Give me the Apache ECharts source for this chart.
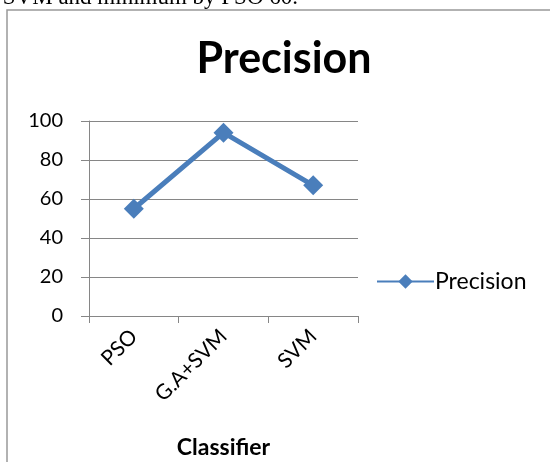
<!DOCTYPE html>
<html>
<head>
<meta charset="utf-8">
<script src="https://cdn.jsdelivr.net/npm/echarts@6/dist/echarts.min.js"></script>
<style>html,body{margin:0;padding:0;background:#fff;}#c{width:550px;height:462px;}</style>
</head>
<body>
<div id="c"></div>
<script>
const categories = ['PSO', 'G.A+SVM', 'SVM'];
const precision = [55, 94, 67];
const yTicks = [0, 20, 40, 60, 80, 100];

const chart = echarts.init(document.getElementById('c'));
const gray = '#868686';
chart.setOption({
  animation: false,
  backgroundColor: '#fff',
  title: {
    text: 'Precision',
    left: 279, top: 33, textAlign: 'center',
    textStyle: { fontFamily: 'Lato', fontWeight: 'bold', fontSize: 43, color: '#000' }
  },
  legend: {
    left: 371, top: 265,
    itemWidth: 57, itemHeight: 18, itemGap: 4,
    textStyle: { fontFamily: 'Lato', fontSize: 23, color: '#000', padding: [0, 0, 0, -4] },
    data: ['Precision']
  },
  grid: { left: 89, right: 192, top: 121, bottom: 146 },
  xAxis: {
    type: 'category', data: categories, boundaryGap: true,
    axisLine: { lineStyle: { color: gray, width: 1 } },
    axisTick: { show: true, length: 7, lineStyle: { color: gray } },
    axisLabel: { rotate: 45, fontFamily: 'Lato', fontSize: 21, color: '#000', margin: 17 },
    name: 'Classifier', nameLocation: 'middle', nameGap: 120,
    nameTextStyle: { fontFamily: 'Lato', fontWeight: 'bold', fontSize: 23, color: '#000' }
  },
  yAxis: {
    type: 'value', min: yTicks[0], max: yTicks[yTicks.length - 1], interval: 20,
    axisLine: { show: true, lineStyle: { color: gray, width: 1 } },
    axisTick: { show: true, inside: false, length: 8, lineStyle: { color: gray } },
    axisLabel: { fontFamily: 'Lato', fontSize: 20, color: '#000', margin: 26 },
    splitLine: { show: true, lineStyle: { color: gray, width: 1 } }
  },
  series: [{
    name: 'Precision', type: 'line', data: precision,
    symbol: 'diamond', symbolSize: 20,
    lineStyle: { color: '#4a7ebb', width: 5 },
    itemStyle: { color: '#4a7ebb' }
  }],
  graphic: [
    { type: 'rect', shape: { x: 7, y: 10, width: 600, height: 500 }, style: { fill: 'none', stroke: '#999', lineWidth: 1.5 }, silent: true },
    { type: 'text', x: 298, y: 9, style: { text: 'maximum SVM and minimum by PSO 60.', font: '23px "Liberation Serif"', fill: '#000', textAlign: 'right', textVerticalAlign: 'bottom' } }
  ]
});
</script>
</body>
</html>
